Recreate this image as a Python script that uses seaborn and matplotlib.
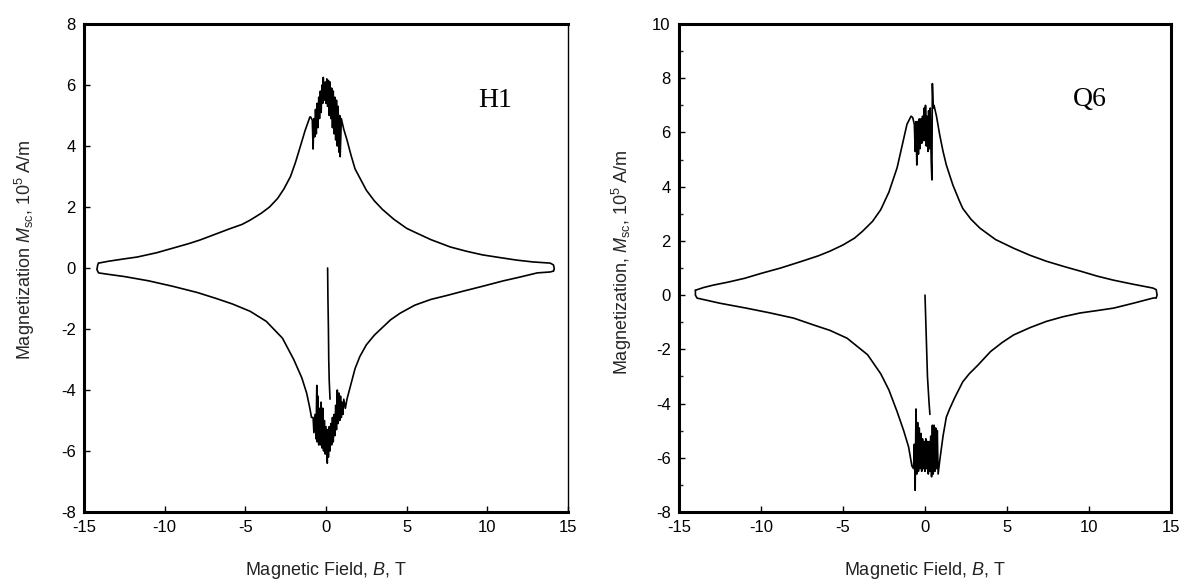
import matplotlib
matplotlib.use("Agg")
import matplotlib.pyplot as plt
import seaborn as sns
import pandas as pd
from matplotlib.ticker import MultipleLocator

# ---------------- data: panel H1 ----------------
h1_up_B = [-14.1, -13.5, -12.5, -11.7, -10.5, -9.5, -8.5, -7.8, -7.0, -6.0, -5.2, -4.7, -4.0, -3.5,
           -3.0, -2.6, -2.2, -1.9, -1.6, -1.3, -1.0, -0.95, -0.85, -0.80, -0.75, -0.70, -0.65, -0.60,
           -0.55, -0.50, -0.45, -0.40, -0.35, -0.30, -0.25, -0.20, -0.17, -0.10, -0.05, 0.00, 0.05,
           0.10, 0.15, 0.20, 0.25, 0.30, 0.35, 0.40, 0.45, 0.50, 0.55, 0.60, 0.65, 0.70, 0.75, 0.80,
           0.85, 0.88, 0.95, 1.1, 1.3, 1.55, 1.8, 2.1, 2.5, 3.0, 3.5, 4.2, 5.0, 5.6, 6.5, 7.7, 8.7,
           9.7, 10.8, 11.8, 12.8, 13.9, 14.1, 14.15, 14.1]
h1_up_M = [0.16, 0.22, 0.30, 0.36, 0.50, 0.65, 0.80, 0.92, 1.08, 1.28, 1.43, 1.57, 1.80, 2.00,
           2.28, 2.60, 3.00, 3.45, 3.97, 4.50, 4.95, 4.95, 4.85, 3.90, 4.90, 4.30, 5.20, 4.40,
           5.40, 4.60, 5.60, 4.90, 5.80, 5.10, 6.00, 5.40, 6.25, 5.50, 6.10, 5.40, 6.20,
           5.30, 6.15, 5.00, 6.10, 4.90, 5.90, 4.60, 5.80, 4.40, 5.60, 4.20, 5.50, 4.00, 5.30, 3.80,
           5.00, 3.65, 4.90, 4.55, 4.20, 3.70, 3.25, 2.95, 2.55, 2.20, 1.92, 1.60, 1.30, 1.15, 0.93, 0.69, 0.55,
           0.43, 0.34, 0.26, 0.20, 0.16, 0.10, -0.02, -0.10]
h1_lo_B = [14.1, 13.9, 13.1, 12.0, 11.0, 9.7, 8.5, 7.5, 6.5, 5.5, 4.6, 4.0, 3.5, 3.0, 2.5, 2.1, 1.8,
           1.5, 1.3, 1.2, 1.1, 1.05, 1.0, 0.95, 0.9, 0.85, 0.8, 0.75, 0.7, 0.65, 0.6, 0.55, 0.5, 0.45,
           0.4, 0.35, 0.3, 0.25, 0.2, 0.15, 0.1, 0.08, 0.0, -0.05, -0.1, -0.15, -0.2, -0.25, -0.3,
           -0.35, -0.4, -0.45, -0.5, -0.55, -0.57, -0.62, -0.68, -0.75, -0.8, -0.9, -1.0, -1.2, -1.5,
           -2.0, -2.7, -3.7, -4.7, -5.8, -6.8, -8.0, -9.5, -11.0, -12.5, -13.6, -14.1, -14.2, -14.15, -14.1]
h1_lo_M = [-0.10, -0.13, -0.16, -0.30, -0.42, -0.60, -0.76, -0.90, -1.03, -1.22, -1.48, -1.70, -1.95,
           -2.20, -2.52, -2.90, -3.30, -3.90, -4.30, -4.60, -4.30, -4.80, -4.40, -4.90, -4.20, -5.00,
           -4.10, -5.10, -4.00, -5.30, -4.50, -5.50, -4.80, -5.70, -4.90, -5.80, -5.10, -6.00, -5.20,
           -6.20, -5.30, -6.40, -5.20, -6.10, -5.00, -6.00, -4.60, -5.90, -4.40, -5.80, -4.60, -5.80,
           -4.20, -5.70, -3.85, -5.60, -4.80, -5.40, -4.90, -4.90, -4.60, -4.10, -3.60, -3.00, -2.30,
           -1.75, -1.42, -1.18, -1.00, -0.80, -0.60, -0.42, -0.28, -0.20, -0.16, -0.05, 0.10, 0.16]
h1_vir_B = [0.10, 0.12, 0.15, 0.17, 0.20, 0.25]
h1_vir_M = [0.00, -1.00, -2.00, -3.00, -3.70, -4.30]

# ---------------- data: panel Q6 ----------------
q6_up_B = [-14.0, -13.5, -12.9, -12.0, -11.0, -10.0, -8.8, -7.5, -6.5, -5.8, -5.0, -4.3, -3.8, -3.2,
           -2.7, -2.2, -1.7, -1.4, -1.1, -0.85, -0.75, -0.65, -0.60, -0.55, -0.50, -0.45, -0.40,
           -0.35, -0.30, -0.25, -0.20, -0.15, -0.10, -0.05, 0.00, 0.03, 0.08, 0.12, 0.18, 0.22, 0.28,
           0.32, 0.38, 0.42, 0.45, 0.50, 0.55, 0.7, 0.9, 1.1, 1.3, 1.7, 2.1, 2.3, 2.8, 3.35, 4.3, 5.4,
           6.4, 7.4, 8.5, 9.5, 10.5, 11.5, 12.7, 13.9, 14.1, 14.15, 14.1]
q6_up_M = [0.18, 0.28, 0.37, 0.48, 0.62, 0.80, 1.00, 1.25, 1.45, 1.62, 1.85, 2.10, 2.36, 2.72,
           3.15, 3.80, 4.70, 5.50, 6.30, 6.60, 6.55, 6.30, 5.30, 6.40, 4.80, 6.40, 5.20,
           6.50, 5.40, 6.50, 5.60, 6.60, 5.70, 6.90, 5.70, 7.00, 5.50, 6.60, 5.30, 6.80, 5.40,
           6.90, 4.90, 4.25, 7.80, 6.90, 7.00, 6.60, 5.90, 5.30, 4.80, 4.06, 3.47, 3.20, 2.80, 2.47,
           2.05, 1.73, 1.47, 1.25, 1.05, 0.88, 0.70, 0.55, 0.40, 0.26, 0.20, 0.00, -0.10]
q6_lo_B = [14.1, 13.9, 12.7, 11.5, 10.5, 9.45, 8.4, 7.4, 6.4, 5.4, 4.7, 4.0, 3.2, 2.7, 2.3, 1.8, 1.5,
           1.3, 1.1, 0.9, 0.8, 0.75, 0.7, 0.65, 0.6, 0.55, 0.5, 0.45, 0.4, 0.35, 0.3, 0.25, 0.2, 0.15,
           0.1, 0.05, 0.0, -0.05, -0.1, -0.15, -0.2, -0.25, -0.3, -0.35, -0.4, -0.45, -0.5, -0.55,
           -0.6, -0.65, -0.7, -0.8, -1.0, -1.3, -1.7, -2.2, -2.7, -3.5, -4.75, -5.8, -6.8, -8.0, -9.5,
           -10.9, -12.5, -13.9, -14.0, -14.0]
q6_lo_M = [-0.10, -0.11, -0.30, -0.48, -0.57, -0.66, -0.80, -0.97, -1.20, -1.47, -1.75, -2.08, -2.60,
           -2.90, -3.20, -3.80, -4.20, -4.50, -5.20, -6.10, -6.60, -5.00, -6.40, -4.90, -6.50, -4.80,
           -6.60, -4.80, -6.70, -5.20, -6.50, -5.40, -6.60, -5.40, -6.40, -5.30, -6.50, -5.40, -6.40,
           -5.30, -6.50, -5.10, -6.40, -4.90, -6.50, -4.70, -6.60, -4.20, -7.20, -5.50, -6.40, -6.30,
           -5.60, -5.00, -4.30, -3.50, -2.90, -2.20, -1.59, -1.30, -1.10, -0.85, -0.65, -0.48, -0.30,
           -0.11, 0.00, 0.18]
q6_vir_B = [0.00, 0.05, 0.10, 0.15, 0.25, 0.30]
q6_vir_M = [0.00, -1.00, -2.00, -3.00, -4.00, -4.40]

panel_labels = ["H1", "Q6"]
xticks = [-15, -10, -5, 0, 5, 10, 15]
h1_yticks = [-8, -6, -4, -2, 0, 2, 4, 6, 8]
q6_yticks = [-8, -6, -4, -2, 0, 2, 4, 6, 8, 10]

# ---------------- style ----------------
sns.set_theme(style="white")
plt.rcParams["font.family"] = ["Liberation Sans", "DejaVu Sans"]
plt.rcParams["mathtext.fontset"] = "custom"
plt.rcParams["mathtext.rm"] = "Liberation Sans"
plt.rcParams["mathtext.it"] = "Liberation Sans:italic"

fig = plt.figure(figsize=(11.84, 5.81), dpi=100)
W, H = 1184, 581
ax1 = fig.add_axes([84 / W, (H - 512) / H, 484 / W, 488 / H])
ax2 = fig.add_axes([679 / W, (H - 512) / H, 492 / W, 488 / H])

def draw(ax, branches):
    for bx, my in branches:
        df = pd.DataFrame({"B": bx, "M": my})
        sns.lineplot(data=df, x="B", y="M", sort=False, estimator=None, color="black",
                     linewidth=1.2, ax=ax)

draw(ax1, [(h1_up_B, h1_up_M), (h1_lo_B, h1_lo_M), (h1_vir_B, h1_vir_M)])
draw(ax2, [(q6_up_B, q6_up_M), (q6_lo_B, q6_lo_M), (q6_vir_B, q6_vir_M)])

tick_fs = 12
label_fs = 13
for ax, yt, ylim in [(ax1, h1_yticks, (-8, 8)), (ax2, q6_yticks, (-8, 10))]:
    ax.set_xlim(-15, 15)
    ax.set_ylim(*ylim)
    ax.set_xticks(xticks)
    ax.set_yticks(yt)
    ax.set_xticklabels([str(v) for v in xticks])
    ax.set_yticklabels([str(v) for v in yt])
    ax.tick_params(direction="in", length=4, width=1, labelsize=tick_fs, colors="black",
                   pad=6, bottom=True, left=True)
    for s in ax.spines.values():
        s.set_color("black")
        s.set_linewidth(2.2)
    ax.set_xlabel(r"Magnetic Field, $\mathit{B}$, T", fontsize=label_fs, color="#222222")
    ax.xaxis.set_label_coords(0.5, -0.098)

ax1.spines["right"].set_linewidth(1.0)
ax2.yaxis.set_minor_locator(MultipleLocator(1))
ax2.tick_params(axis="y", which="minor", direction="in", length=3, width=1, left=True)

ax1.set_ylabel(r"Magnetization $\mathit{M}_{\mathrm{sc}}$, 10$^{5}$ A/m", fontsize=label_fs)
ax1.yaxis.set_label_coords(-0.097, 0.537)
ax2.set_ylabel(r"Magnetization, $\mathit{M}_{\mathrm{sc}}$, 10$^{5}$ A/m", fontsize=label_fs)
ax2.yaxis.set_label_coords(-0.091, 0.512)

ax1.text(10.5, 5.5, panel_labels[0], fontsize=20, family="Liberation Serif",
         ha="center", va="center", color="black")
ax2.text(10.06, 7.23, panel_labels[1], fontsize=20, family="Liberation Serif",
         ha="center", va="center", color="black")

fig.savefig("out.png", dpi=100)
